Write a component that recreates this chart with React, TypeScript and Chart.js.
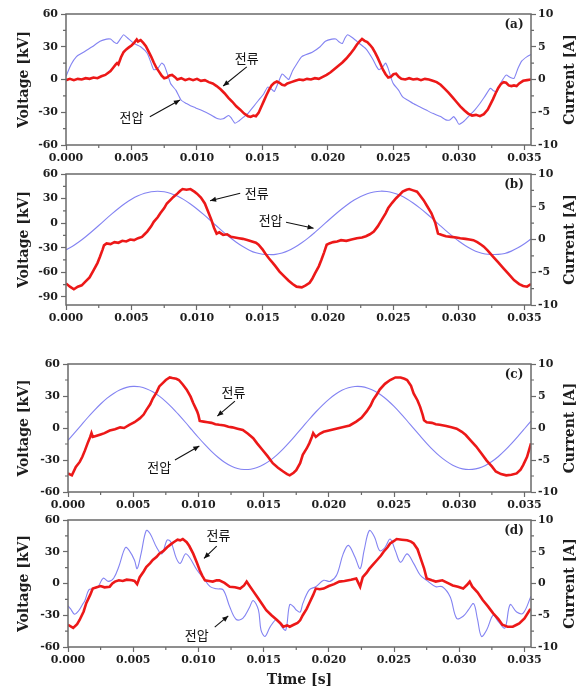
import React, { useEffect, useRef } from "react";
import { Chart, registerables } from "chart.js";
Chart.register(...registerables);

type Pt = [number, number];

// ---------------- DATA ----------------
const X_MIN = 0;
const X_MAX = 0.0355;
const X_MAJOR = 0.005;
const GRID_STEP = 0.0005; // sampling step of the sinusoidal voltage traces

// (a) voltage [kV]
const aVoltage: Pt[] = [
  [0, 3], [0.0004, 14], [0.0008, 21], [0.0012, 24], [0.0016, 27], [0.002, 30], [0.0026, 35], [0.0031, 37], [0.0034, 37],
  [0.0037, 34], [0.0039, 33], [0.0042, 38], [0.0044, 41], [0.0047, 38], [0.0052, 33], [0.0057, 30], [0.0062, 24],
  [0.0065, 15], [0.0067, 9], [0.007, 10], [0.0073, 15], [0.0075, 13], [0.0078, 3], [0.008, -4], [0.0084, -10],
  [0.0088, -19], [0.0092, -22], [0.0095, -24], [0.0099, -26], [0.0103, -28], [0.011, -32], [0.0116, -36], [0.012, -36],
  [0.0124, -33], [0.0126, -35], [0.0129, -40], [0.0132, -38], [0.0136, -34], [0.0139, -31], [0.0143, -25], [0.0147, -19],
  [0.0151, -13], [0.0154, -7], [0.0157, -9], [0.0159, -11], [0.0162, -3], [0.0165, 5], [0.0168, 2], [0.017, 0],
  [0.0173, 8], [0.0176, 14], [0.018, 21], [0.0188, 25], [0.0194, 30], [0.0198, 35], [0.0203, 37], [0.0206, 37],
  [0.0209, 34], [0.0211, 33], [0.0213, 38], [0.0215, 41], [0.0219, 38], [0.0224, 33], [0.0229, 28], [0.0234, 19],
  [0.0237, 12], [0.0239, 9], [0.0242, 12], [0.0244, 15], [0.0246, 10], [0.0248, 2], [0.025, -4], [0.0254, -10],
  [0.0257, -16], [0.0261, -19], [0.0265, -22], [0.027, -25], [0.0275, -28], [0.028, -31], [0.0286, -34], [0.029, -37],
  [0.0293, -37], [0.0296, -34], [0.0298, -37], [0.03, -41], [0.0304, -38], [0.0308, -33], [0.0312, -28], [0.0316, -22],
  [0.032, -15], [0.0324, -8], [0.0326, -10], [0.0329, -11], [0.0332, -3], [0.0336, 4], [0.0339, 2], [0.0342, 1],
  [0.0345, 10], [0.0348, 17], [0.0352, 21], [0.0355, 23],
];

// (a) current [A]
const aCurrent: Pt[] = [
  [0, -0.1], [0.0003, 0.1], [0.0006, -0.1], [0.0009, 0.1], [0.0012, 0.0], [0.0015, 0.2], [0.0018, 0.1], [0.0021, 0.3],
  [0.0024, 0.2], [0.0027, 0.5], [0.003, 0.7], [0.0032, 1.0], [0.0034, 1.3], [0.0036, 1.8], [0.0038, 2.3], [0.0039, 2.5],
  [0.004, 2.3], [0.0042, 3.4], [0.0044, 4.2], [0.0046, 4.6], [0.0048, 4.9], [0.005, 5.2], [0.0052, 5.6], [0.0054, 6.1],
  [0.0055, 5.8], [0.0057, 6.0], [0.0059, 5.6], [0.0061, 5.1], [0.0063, 4.3], [0.0065, 3.5], [0.0067, 2.6], [0.0069, 1.8],
  [0.0071, 1.2], [0.0073, 0.6], [0.0075, 0.2], [0.0077, 0.3], [0.0079, 0.6], [0.0081, 0.7], [0.0083, 0.4], [0.0085, 0.0],
  [0.0088, 0.2], [0.0091, -0.1], [0.0094, 0.1], [0.0097, -0.1], [0.01, 0.1], [0.0103, -0.2], [0.0106, -0.1],
  [0.0109, -0.4], [0.0112, -0.6], [0.0115, -1.0], [0.0118, -1.5], [0.0121, -2.1], [0.0124, -2.8], [0.0127, -3.4],
  [0.013, -4.1], [0.0133, -4.6], [0.0136, -5.2], [0.0139, -5.6], [0.0141, -5.7], [0.0143, -5.5], [0.0145, -5.6],
  [0.0147, -5.1], [0.0149, -4.2], [0.0151, -3.3], [0.0153, -2.4], [0.0155, -1.6], [0.0157, -0.9], [0.0159, -0.5],
  [0.0161, -0.3], [0.0163, -0.5], [0.0165, -0.8], [0.0167, -0.9], [0.0169, -0.6], [0.0172, -0.4], [0.0175, -0.2],
  [0.0178, 0.0], [0.0181, -0.1], [0.0184, 0.1], [0.0187, 0.0], [0.019, 0.2], [0.0193, 0.1], [0.0196, 0.4], [0.0199, 0.7],
  [0.0202, 1.1], [0.0205, 1.6], [0.0208, 2.1], [0.0211, 2.6], [0.0214, 3.2], [0.0217, 3.9], [0.022, 4.7], [0.0222, 5.3],
  [0.0224, 5.8], [0.0226, 6.2], [0.0228, 5.9], [0.023, 5.7], [0.0232, 5.3], [0.0234, 4.8], [0.0236, 4.1], [0.0238, 3.3],
  [0.024, 2.4], [0.0242, 1.5], [0.0244, 0.8], [0.0246, 0.3], [0.0248, 0.4], [0.025, 0.8], [0.0252, 0.9], [0.0254, 0.4],
  [0.0256, 0.1], [0.0259, 0.0], [0.0262, 0.2], [0.0265, 0.0], [0.0268, 0.1], [0.0271, -0.1], [0.0274, 0.1], [0.0277, 0.0],
  [0.028, -0.2], [0.0283, -0.4], [0.0286, -0.8], [0.0289, -1.4], [0.0292, -2.0], [0.0295, -2.7], [0.0298, -3.4],
  [0.0301, -4.1], [0.0304, -4.7], [0.0307, -5.2], [0.031, -5.5], [0.0313, -5.4], [0.0316, -5.6], [0.0319, -5.3],
  [0.0322, -4.6], [0.0324, -3.8], [0.0326, -3.0], [0.0328, -2.1], [0.033, -1.3], [0.0332, -0.7], [0.0334, -0.4],
  [0.0336, -0.5], [0.0338, -0.9], [0.034, -1.0], [0.0342, -0.9], [0.0344, -1.0], [0.0346, -0.6], [0.0349, -0.2],
  [0.0352, -0.1], [0.0355, 0.0],
];

// (b) voltage [kV], sampled every GRID_STEP from t = 0
const bVoltage: number[] = [
  -32.6, -28.2, -22.8, -16.6, -9.9, -2.9, 4.3, 11.3, 17.9, 23.9, 29.2, 33.4, 36.5, 38.4, 39.0, 38.3, 36.3, 33.0,
  28.7, 23.4, 17.3, 10.6, 3.6, -3.5, -10.6, -17.3, -23.3, -28.6, -33.0, -36.3, -38.0, -38.4, -38.2, -36.5, -33.5,
  -29.2, -24.0, -18.0, -11.3, -4.3, 2.9, 9.9, 16.6, 22.8, 28.2, 32.6, 36.0, 38.1, 39.0, 38.6, 36.8, 33.9, 29.8,
  24.6, 18.6, 12.1, 5.1, -2.1, -9.2, -15.9, -22.2, -27.6, -32.2, -35.7, -37.7, -38.3, -38.2, -37.0, -34.2, -30.2,
  -25.2, -19.4,
];

// (b) current [A]
const bCurrent: Pt[] = [
  [0, -6.7], [0.0003, -7.2], [0.0006, -7.6], [0.0009, -7.2], [0.0012, -7.0], [0.0015, -6.4], [0.0018, -5.8],
  [0.0021, -4.7], [0.0024, -3.6], [0.0026, -2.6], [0.0028, -1.5], [0.0029, -0.9], [0.0031, -0.6], [0.0034, -0.7],
  [0.0037, -0.4], [0.004, -0.5], [0.0043, -0.2], [0.0046, -0.3], [0.0049, 0.0], [0.0052, -0.1], [0.0055, 0.2],
  [0.0058, 0.4], [0.006, 0.8], [0.0062, 1.2], [0.0065, 2.0], [0.0067, 2.7], [0.007, 3.4], [0.0072, 4.0], [0.0075, 4.8],
  [0.0077, 5.5], [0.008, 6.1], [0.0082, 6.5], [0.0085, 7.0], [0.0087, 7.4], [0.0089, 7.7], [0.0092, 7.6], [0.0095, 7.7],
  [0.0098, 7.3], [0.01, 7.0], [0.0103, 6.4], [0.0106, 5.5], [0.0108, 4.5], [0.0111, 3.0], [0.0113, 1.8], [0.0115, 0.9],
  [0.0117, 1.1], [0.012, 0.7], [0.0123, 0.8], [0.0126, 0.4], [0.0129, 0.3], [0.0132, 0.2], [0.0135, 0.1],
  [0.0139, -0.1], [0.0142, -0.3], [0.0145, -0.5], [0.0147, -0.8], [0.015, -1.5], [0.0152, -2.1], [0.0155, -2.9],
  [0.0158, -3.6], [0.016, -4.1], [0.0163, -4.9], [0.0167, -5.7], [0.017, -6.3], [0.0173, -6.8], [0.0176, -7.2],
  [0.018, -7.3], [0.0183, -7.0], [0.0186, -6.6], [0.0188, -6.0], [0.019, -5.2], [0.0193, -4.1], [0.0195, -3.1],
  [0.0197, -2.0], [0.0199, -0.8], [0.0201, -0.6], [0.0204, -0.4], [0.0207, -0.3], [0.021, -0.1], [0.0214, -0.2],
  [0.0218, 0.0], [0.0222, 0.2], [0.0226, 0.3], [0.0229, 0.5], [0.0232, 0.8], [0.0235, 1.2], [0.0238, 2.0], [0.0241, 3.0],
  [0.0244, 4.0], [0.0246, 4.8], [0.0249, 5.6], [0.0252, 6.3], [0.0255, 6.9], [0.0257, 7.3], [0.026, 7.6], [0.0262, 7.7],
  [0.0265, 7.5], [0.0268, 7.3], [0.027, 6.8], [0.0273, 6.0], [0.0276, 5.0], [0.0279, 4.0], [0.0282, 2.5], [0.0284, 0.9],
  [0.0287, 0.7], [0.029, 0.5], [0.0294, 0.4], [0.0298, 0.3], [0.0301, 0.2], [0.0305, 0.1], [0.0308, 0.0],
  [0.0311, -0.1], [0.0314, -0.4], [0.0317, -0.8], [0.0319, -1.1], [0.0322, -1.7], [0.0326, -2.6], [0.033, -3.5],
  [0.0334, -4.4], [0.0338, -5.3], [0.0342, -6.2], [0.0346, -6.8], [0.0349, -7.1], [0.0352, -7.2], [0.0355, -6.8],
];

// (c) voltage [kV], sampled every GRID_STEP from t = 0
const cVoltage: number[] = [
  -11.6, -4.6, 2.5, 9.6, 16.3, 22.5, 28.0, 32.4, 35.8, 38.1, 39.0, 38.6, 36.9, 34.0, 29.9, 24.8, 18.9, 12.3, 5.4,
  -1.8, -8.9, -15.6, -21.9, -27.4, -32.1, -35.6, -37.9, -38.9, -38.6, -37.1, -34.3, -30.4, -25.4, -19.5, -13.0,
  -6.0, 1.1, 8.2, 15.0, 21.3, 26.9, 31.6, 35.3, 37.7, 38.9, 38.8, 37.3, 34.7, 30.9, 26.0, 20.2, 13.7, 6.8, -0.4,
  -7.4, -14.3, -20.7, -26.4, -31.1, -34.9, -37.5, -38.8, -38.8, -37.6, -35.1, -31.4, -26.7, -21.0, -14.6, -7.8,
  -0.7, 6.5,
];

// (c) current [A]
const cCurrent: Pt[] = [
  [0, -7.1], [0.0003, -7.4], [0.0006, -6.1], [0.0009, -5.3], [0.0011, -4.5], [0.0013, -3.5], [0.0015, -2.4],
  [0.0017, -1.4], [0.0018, -0.8], [0.0019, -1.4], [0.0022, -1.2], [0.0025, -1.0], [0.0028, -0.8], [0.0032, -0.4],
  [0.0036, -0.2], [0.004, 0.1], [0.0043, 0.0], [0.0047, 0.5], [0.0051, 0.9], [0.0055, 1.5], [0.0058, 2.1],
  [0.006, 2.8], [0.0063, 3.7], [0.0065, 4.6], [0.0068, 5.6], [0.007, 6.5], [0.0073, 7.1], [0.0075, 7.5], [0.0078, 7.9],
  [0.008, 7.8], [0.0083, 7.7], [0.0085, 7.5], [0.0088, 6.8], [0.0091, 6.0], [0.0094, 4.9], [0.0096, 3.9], [0.0099, 2.6],
  [0.01, 2.0], [0.0101, 1.1], [0.0104, 1.0], [0.0107, 0.9], [0.011, 0.8], [0.0113, 0.6], [0.0116, 0.5], [0.012, 0.4],
  [0.0123, 0.2], [0.0126, 0.1], [0.013, -0.1], [0.0134, -0.3], [0.0138, -0.9], [0.0142, -1.6], [0.0145, -2.4],
  [0.0149, -3.4], [0.0153, -4.4], [0.0157, -5.5], [0.0161, -6.2], [0.0165, -6.8], [0.0168, -7.2], [0.017, -7.4],
  [0.0173, -7.0], [0.0175, -6.6], [0.0178, -5.5], [0.018, -4.2], [0.0183, -3.2], [0.0185, -2.4], [0.0187, -1.4],
  [0.0188, -0.8], [0.019, -1.4], [0.0193, -0.9], [0.0196, -0.6], [0.02, -0.4], [0.0204, -0.2], [0.0208, 0.0],
  [0.0212, 0.2], [0.0216, 0.4], [0.0221, 1.0], [0.0225, 1.6], [0.0229, 2.6], [0.0232, 3.5], [0.0234, 4.4], [0.0237, 5.3],
  [0.0239, 6.0], [0.0243, 6.9], [0.0247, 7.5], [0.0251, 7.9], [0.0255, 7.9], [0.0258, 7.7], [0.026, 7.5], [0.0263, 6.6],
  [0.0265, 5.4], [0.0268, 4.3], [0.027, 3.3], [0.0272, 2.0], [0.0273, 1.2], [0.0275, 0.9], [0.0279, 0.8], [0.0282, 0.6],
  [0.0285, 0.5], [0.029, 0.3], [0.0294, 0.1], [0.0298, -0.1], [0.0302, -0.6], [0.0305, -1.1], [0.0309, -2.0],
  [0.0313, -2.9], [0.0317, -4.0], [0.0321, -5.1], [0.0325, -6.0], [0.0328, -6.8], [0.0332, -7.2], [0.0336, -7.4],
  [0.034, -7.3], [0.0344, -7.1], [0.0347, -6.5], [0.0349, -5.8], [0.0352, -4.5], [0.0355, -2.4],
];

// (d) voltage [kV]
const dVoltage: Pt[] = [
  [0, -21], [0.0002, -24], [0.0005, -29], [0.0008, -26], [0.0011, -20], [0.0013, -16], [0.0016, -6], [0.0019, -5],
  [0.0023, -3], [0.0027, 5], [0.0031, 2], [0.0035, 5], [0.0039, 16], [0.0044, 34], [0.0047, 31], [0.0051, 22],
  [0.0053, 14], [0.0056, 28], [0.006, 50], [0.0063, 47], [0.0068, 34], [0.0072, 28], [0.0076, 41], [0.0079, 39],
  [0.0083, 24], [0.0086, 19], [0.009, 28], [0.0093, 25], [0.0099, 12.5], [0.0104, 5], [0.0109, -3], [0.0114, -5],
  [0.0119, -6], [0.0124, -22], [0.0129, -34], [0.0134, -33], [0.0139, -23], [0.0142, -16], [0.0146, -25],
  [0.0148, -44], [0.0151, -50], [0.0155, -41], [0.016, -34], [0.0164, -41], [0.0167, -44], [0.017, -20], [0.0173, -22],
  [0.0175, -25], [0.0178, -27], [0.018, -19], [0.0185, -6], [0.019, -3], [0.0196, 3], [0.0201, 2], [0.0206, 8],
  [0.0211, 28], [0.0215, 36], [0.022, 25], [0.0224, 14], [0.0227, 31], [0.0231, 50], [0.0235, 44], [0.0239, 31],
  [0.0243, 34], [0.0247, 42], [0.0251, 31], [0.0255, 20], [0.026, 28], [0.0265, 19], [0.027, 8], [0.0275, 3],
  [0.0282, -3], [0.0287, -3], [0.0293, -12.5], [0.0298, -33], [0.0303, -31], [0.0307, -25], [0.0311, -19],
  [0.0314, -34], [0.0317, -50], [0.0321, -44], [0.0326, -30], [0.033, -36], [0.0335, -42], [0.0339, -20],
  [0.0344, -27], [0.0349, -28], [0.0355, -12],
];

// (d) current [A]
const dCurrent: Pt[] = [
  [0, -6.5], [0.0004, -7.0], [0.0007, -6.4], [0.0009, -5.7], [0.0012, -4.4], [0.0014, -3.1], [0.0017, -1.8],
  [0.0019, -0.8], [0.0022, -0.6], [0.0025, -0.4], [0.0028, -0.6], [0.0032, -0.5], [0.0034, 0.0], [0.0036, 0.3],
  [0.0039, 0.5], [0.0042, 0.4], [0.0045, 0.6], [0.0049, 0.5], [0.0051, 0.4], [0.0053, -0.1], [0.0055, 1.0],
  [0.0058, 1.9], [0.006, 2.6], [0.0063, 3.2], [0.0065, 3.7], [0.0068, 4.2], [0.007, 4.7], [0.0073, 5.1], [0.0076, 5.7],
  [0.0079, 6.2], [0.0081, 6.5], [0.0084, 6.9], [0.0086, 6.8], [0.0088, 7.0], [0.0091, 6.5], [0.0093, 5.9],
  [0.0096, 4.7], [0.0099, 3.2], [0.0101, 2.1], [0.0103, 1.2], [0.0105, 0.5], [0.0108, 0.4], [0.0111, 0.3],
  [0.0114, 0.5], [0.0116, 0.5], [0.012, 0.1], [0.0124, -0.5], [0.0128, -0.6], [0.0132, -0.8], [0.0135, -0.3],
  [0.0137, 0.3], [0.0139, -0.3], [0.0142, -1.2], [0.0145, -2.1], [0.0148, -3.0], [0.0152, -4.2], [0.0156, -5.0],
  [0.016, -5.7], [0.0163, -6.3], [0.0165, -6.8], [0.0168, -6.6], [0.017, -6.8], [0.0173, -6.5], [0.0176, -6.2],
  [0.0178, -5.8], [0.018, -5.0], [0.0183, -4.0], [0.0185, -3.1], [0.0188, -1.8], [0.019, -0.8], [0.0193, -0.9],
  [0.0196, -0.8], [0.02, -0.4], [0.0204, -0.1], [0.0208, 0.3], [0.0212, 0.4], [0.0217, 0.6], [0.0221, 0.8],
  [0.0224, -0.5], [0.0226, 1.0], [0.0229, 1.7], [0.0231, 2.3], [0.0234, 3.0], [0.0237, 3.7], [0.024, 4.4],
  [0.0242, 5.0], [0.0245, 5.7], [0.0247, 6.3], [0.025, 6.7], [0.0252, 7.0], [0.0256, 6.9], [0.026, 6.8],
  [0.0263, 6.6], [0.0265, 6.3], [0.0268, 5.4], [0.027, 4.2], [0.0273, 2.4], [0.0275, 0.8], [0.0279, 0.5],
  [0.0282, 0.3], [0.0287, 0.5], [0.0291, 0.1], [0.0295, -0.3], [0.0299, -0.5], [0.0303, -0.8], [0.0306, -0.2],
  [0.0308, 0.3], [0.031, -0.5], [0.0314, -1.4], [0.0318, -2.6], [0.0322, -3.6], [0.0326, -4.7], [0.033, -5.6],
  [0.0333, -6.5], [0.0337, -6.8], [0.0341, -6.8], [0.0344, -6.5], [0.0346, -6.3], [0.035, -5.5], [0.0354, -4.2],
  [0.0355, -4.0],
];

const PANEL_LABELS = ["(a)", "(b)", "(c)", "(d)"];
const LABEL_CURRENT = "전류";
const LABEL_VOLTAGE = "전압";
const TITLE_LEFT = "Voltage [kV]";
const TITLE_RIGHT = "Current [A]";
const TITLE_X = "Time [s]";

// ---------------- STYLE ----------------
const RED = "#ec1818";
const BLUE = "#8383f2";
const AXIS = "#6a6a6a";
const TEXT = "#1e1e1e";
const SERIF = "'DejaVu Serif', serif";
const KR = "'Noto Sans CJK KR', sans-serif";

type XY = { x: number; y: number };
const fromPairs = (arr: Pt[]): XY[] => arr.map(([x, y]) => ({ x, y }));
const fromGrid = (vals: number[]): XY[] => vals.map((y, i) => ({ x: i * GRID_STEP, y }));

// annotation: text at (t, kV), arrow from (t1,kV1) to (t2,kV2)
type Note = { text: string; t: number; v: number; a: [number, number, number, number] };

type PanelSpec = {
  label: string;
  voltage: XY[];
  current: XY[];
  vMin: number;
  vMax: number;
  top: number;
  height: number;
  plotLeft: number;
  plotBottom: number; // in page coords
  voltTension: number;
  notes: Note[];
  xTitle: boolean;
};

const PANELS: PanelSpec[] = [
  {
    label: PANEL_LABELS[0], voltage: fromPairs(aVoltage), current: fromPairs(aCurrent), vMin: -60, vMax: 60,
    top: 0, height: 168, plotLeft: 66, plotBottom: 145, voltTension: 0.2, xTitle: false,
    notes: [
      { text: LABEL_CURRENT, t: 0.0138, v: 19.7, a: [0.0138, 11.5, 0.012, -6.0] },
      { text: LABEL_VOLTAGE, t: 0.005, v: -34.6, a: [0.0064, -34.1, 0.0087, -18.8] },
    ],
  },
  {
    label: PANEL_LABELS[1], voltage: fromGrid(bVoltage), current: fromPairs(bCurrent), vMin: -100, vMax: 60,
    top: 160, height: 168, plotLeft: 66, plotBottom: 305, voltTension: 0.3, xTitle: false,
    notes: [
      { text: LABEL_CURRENT, t: 0.01456, v: 36.4, a: [0.0133, 36.4, 0.011, 27.4] },
      { text: LABEL_VOLTAGE, t: 0.01562, v: 3.8, a: [0.0168, 1.0, 0.0189, -6.3] },
    ],
  },
  {
    label: PANEL_LABELS[2], voltage: fromGrid(cVoltage), current: fromPairs(cCurrent), vMin: -60, vMax: 60,
    top: 350, height: 165, plotLeft: 68, plotBottom: 492, voltTension: 0.3, xTitle: false,
    notes: [
      { text: LABEL_CURRENT, t: 0.01268, v: 34.0, a: [0.0128, 25.2, 0.01145, 11.2] },
      { text: LABEL_VOLTAGE, t: 0.007, v: -36.3, a: [0.0082, -30, 0.01007, -16.9] },
    ],
  },
  {
    label: PANEL_LABELS[3], voltage: fromPairs(dVoltage), current: fromPairs(dCurrent), vMin: -60, vMax: 60,
    top: 506, height: 185, plotLeft: 68, plotBottom: 647, voltTension: 0.35, xTitle: true,
    notes: [
      { text: LABEL_CURRENT, t: 0.01153, v: 45.7, a: [0.0114, 35.3, 0.01043, 23.7] },
      { text: LABEL_VOLTAGE, t: 0.00987, v: -48.5, a: [0.01125, -41.2, 0.01229, -30.6] },
    ],
  },
];

const PAD_TOP = 14;
const PAD_LEFT = 10;
const RIGHT_AXIS_W = 55;

function drawArrow(ctx: CanvasRenderingContext2D, x1: number, y1: number, x2: number, y2: number) {
  ctx.beginPath();
  ctx.moveTo(x1, y1);
  ctx.lineTo(x2, y2);
  ctx.stroke();
  const ang = Math.atan2(y2 - y1, x2 - x1);
  const L = 6, W = 2.6;
  const bx = x2 - L * Math.cos(ang), by = y2 - L * Math.sin(ang);
  ctx.beginPath();
  ctx.moveTo(x2, y2);
  ctx.lineTo(bx + W * Math.sin(ang), by - W * Math.cos(ang));
  ctx.lineTo(bx - W * Math.sin(ang), by + W * Math.cos(ang));
  ctx.closePath();
  ctx.fill();
}

function makePlugin(spec: PanelSpec) {
  return {
    id: "decor" + spec.label,
    afterDraw(chart: any) {
      const ctx: CanvasRenderingContext2D = chart.ctx;
      const ca = chart.chartArea;
      const xs = chart.scales.x, ys = chart.scales.y, ys1 = chart.scales.y1;
      ctx.save();
      // minor ticks
      ctx.strokeStyle = AXIS;
      ctx.lineWidth = 1.2;
      const minors = (sc: any) => {
        const vals: number[] = sc.ticks.map((t: any) => t.value);
        const out: number[] = [];
        if (vals.length > 1) {
          const step = vals[1] - vals[0];
          for (let i = 0; i < vals.length - 1; i++) out.push((vals[i] + vals[i + 1]) / 2);
          const before = vals[0] - step / 2, after = vals[vals.length - 1] + step / 2;
          if (before >= sc.min - 1e-12) out.push(before);
          if (after <= sc.max + 1e-12) out.push(after);
        }
        return out;
      };
      ctx.beginPath();
      for (const v of minors(xs)) { const p = xs.getPixelForValue(v); ctx.moveTo(p, ca.bottom); ctx.lineTo(p, ca.bottom + 3); }
      for (const v of minors(ys)) { const p = ys.getPixelForValue(v); ctx.moveTo(ca.left, p); ctx.lineTo(ca.left - 3, p); }
      for (const v of minors(ys1)) { const p = ys1.getPixelForValue(v); ctx.moveTo(ca.right, p); ctx.lineTo(ca.right + 3, p); }
      ctx.stroke();
      // frame
      ctx.lineWidth = 1.5;
      ctx.strokeRect(ca.left, ca.top, ca.right - ca.left, ca.bottom - ca.top);
      // panel label
      ctx.fillStyle = TEXT;
      ctx.font = `bold 12px ${SERIF}`;
      ctx.textAlign = "center";
      ctx.textBaseline = "middle";
      ctx.fillText(spec.label, ca.right - 17, ca.top + 11);
      // axis titles
      ctx.font = `bold 14px ${SERIF}`;
      const cy = (ca.top + ca.bottom) / 2;
      ctx.save();
      ctx.translate(24, cy);
      ctx.rotate(-Math.PI / 2);
      ctx.fillText(TITLE_LEFT, 0, 0);
      ctx.restore();
      ctx.save();
      ctx.translate(570, cy);
      ctx.rotate(-Math.PI / 2);
      ctx.fillText(TITLE_RIGHT, 0, 0);
      ctx.restore();
      if (spec.xTitle) {
        ctx.fillText(TITLE_X, (ca.left + ca.right) / 2, ca.bottom + 33);
      }
      // annotations
      ctx.font = `13px ${KR}`;
      ctx.strokeStyle = "#111";
      ctx.fillStyle = "#111";
      ctx.lineWidth = 1.1;
      for (const n of spec.notes) {
        ctx.fillText(n.text, xs.getPixelForValue(n.t), ys.getPixelForValue(n.v));
        drawArrow(
          ctx,
          xs.getPixelForValue(n.a[0]), ys.getPixelForValue(n.a[1]),
          xs.getPixelForValue(n.a[2]), ys.getPixelForValue(n.a[3])
        );
      }
      ctx.restore();
    },
  };
}

function Panel({ spec }: { spec: PanelSpec }) {
  const ref = useRef<HTMLCanvasElement>(null);
  useEffect(() => {
    const canvas = ref.current;
    if (!canvas) return;
    const tickFont = { family: SERIF, size: 11, weight: "bold" as const };
    const grid = { drawOnChartArea: false, drawTicks: true, tickLength: 5, tickColor: AXIS, tickWidth: 1.2 };
    const axisH = spec.top + spec.height - spec.plotBottom;
    const chart = new Chart(canvas, {
      type: "line",
      data: {
        datasets: [
          { label: "current", data: spec.current, yAxisID: "y1", borderColor: RED, borderWidth: 2.6, pointRadius: 0, tension: 0, order: 0 },
          { label: "voltage", data: spec.voltage, yAxisID: "y", borderColor: BLUE, borderWidth: 1.1, pointRadius: 0, tension: spec.voltTension, order: 1 },
        ],
      },
      options: {
        responsive: false,
        animation: false,
        events: [],
        layout: { padding: { top: PAD_TOP, left: PAD_LEFT, right: 0, bottom: 0 } },
        plugins: { legend: { display: false }, tooltip: { enabled: false } },
        scales: {
          x: {
            type: "linear", min: X_MIN, max: X_MAX,
            ticks: {
              stepSize: X_MAJOR, includeBounds: false, autoSkip: false, maxRotation: 0, padding: 2,
              font: tickFont, color: TEXT,
              callback: (v: any) => Number(v).toFixed(3),
            },
            grid, border: { display: false },
            afterFit: (s: any) => { s.height = axisH; },
          },
          y: {
            position: "left", min: spec.vMin, max: spec.vMax,
            ticks: { stepSize: 30, includeBounds: false, padding: 3, font: tickFont, color: TEXT, callback: (v: any) => String(Math.round(Number(v))) },
            grid, border: { display: false },
            afterFit: (s: any) => { s.width = spec.plotLeft - PAD_LEFT; },
          },
          y1: {
            position: "right", min: -10, max: 10,
            ticks: { stepSize: 5, includeBounds: false, padding: 2, font: tickFont, color: TEXT, callback: (v: any) => String(Math.round(Number(v))) },
            grid, border: { display: false },
            afterFit: (s: any) => { s.width = RIGHT_AXIS_W; },
          },
        },
      } as any,
      plugins: [makePlugin(spec)],
    });
    return () => chart.destroy();
  }, [spec]);
  return (
    <canvas
      ref={ref}
      width={586}
      height={spec.height}
      style={{ position: "absolute", left: 0, top: spec.top, width: 586, height: spec.height }}
    />
  );
}

export default function App() {
  return (
    <div style={{ position: "absolute", left: 0, top: 0, width: 586, height: 691, background: "#fff", overflow: "hidden" }}>
      {PANELS.map((p) => (
        <Panel key={p.label} spec={p} />
      ))}
    </div>
  );
}
